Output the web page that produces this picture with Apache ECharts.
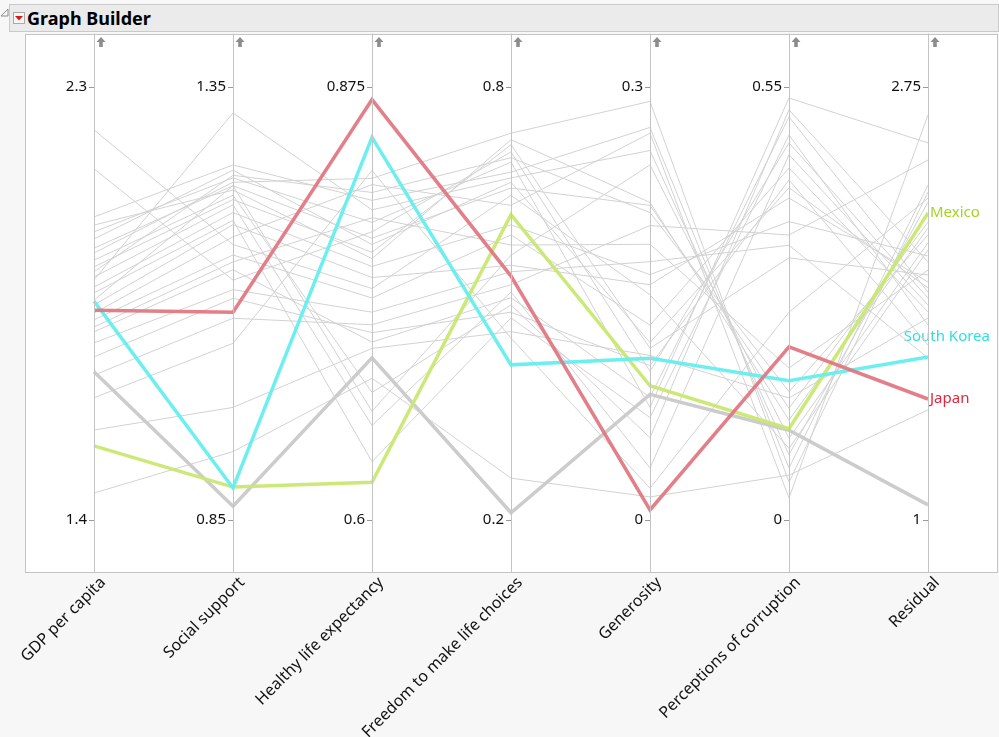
<!DOCTYPE html>
<html><head><meta charset="utf-8">
<script src="https://cdn.jsdelivr.net/npm/echarts@6/dist/echarts.min.js"></script>
<style>
html,body{margin:0;padding:0;background:#f7f7f7;width:999px;height:737px;overflow:hidden;font-family:'Noto Sans',sans-serif;}
#hdr{position:absolute;left:9px;top:4px;width:990px;height:28px;background:#ebebeb;border:1px solid #c9c9c9;box-sizing:border-box;}
#hdr .t{position:absolute;left:17px;top:0px;font-weight:bold;font-size:18px;color:#000;line-height:26px;}
#icon{position:absolute;left:3px;top:7px;width:10px;height:10px;background:#f6f6f6;border:1px solid #a9a9a9;}
#disc{position:absolute;left:0px;top:8px;}
#frame{position:absolute;left:25px;top:34px;width:973px;height:539px;background:#fff;border:1px solid #c3c3c3;box-sizing:border-box;}
#chart{position:absolute;left:0;top:0;width:999px;height:737px;}
</style></head>
<body>
<svg id="disc" width="9" height="9"><polygon points="1,8 8,8 8,1" fill="none" stroke="#8a8a8a" stroke-width="1"/></svg>
<div id="hdr"><div id="icon"><svg width="10" height="10" style="position:absolute;left:0;top:0"><polygon points="1,3 9,3 5,7.5" fill="#d7191c"/></svg></div><div class="t">Graph Builder</div></div>
<div id="frame"></div>
<div id="chart"></div>
<script>
// ---- data ----
const dimensions = ['GDP per capita','Social support','Healthy life expectancy','Freedom to make life choices','Generosity','Perceptions of corruption','Residual'];
const tickLow  = [1.4, 0.85, 0.6, 0.2, 0, 0, 1];
const tickHigh = [2.3, 1.35, 0.875, 0.8, 0.3, 0.55, 2.75];

const japan      = [1.836, 1.090, 0.867, 0.538, 0.007, 0.220, 1.489];
const southKorea = [1.855, 0.887, 0.843, 0.415, 0.112, 0.177, 1.659];
const mexico     = [1.554, 0.888, 0.624, 0.623, 0.093, 0.116, 2.241];
const highlightedGray = [1.708, 0.866, 0.703, 0.210, 0.087, 0.114, 1.061];

const otherCountries = [
  [2.211, 1.168, 0.747, 0.650, 0.156, 0.091, 2.091],
  [2.130, 1.127, 0.783, 0.710, 0.103, 0.479, 1.897],
  [2.030, 1.260, 0.803, 0.682, 0.272, 0.066, 2.354],
  [2.013, 1.231, 0.766, 0.727, 0.220, 0.127, 2.180],
  [1.999, 1.245, 0.789, 0.696, 0.078, 0.536, 2.524],
  [1.984, 1.254, 0.775, 0.668, 0.123, 0.422, 1.938],
  [1.965, 1.236, 0.669, 0.567, 0.246, 0.104, 2.120],
  [1.955, 1.240, 0.817, 0.736, 0.290, 0.048, 2.326],
  [1.940, 1.225, 0.681, 0.498, 0.057, 0.521, 2.043],
  [1.926, 1.220, 0.770, 0.720, 0.119, 0.333, 1.990],
  [1.916, 1.248, 0.808, 0.702, 0.213, 0.163, 2.152],
  [1.905, 1.214, 0.660, 0.516, 0.036, 0.464, 1.869],
  [1.899, 1.320, 0.797, 0.674, 0.256, 0.083, 2.285],
  [1.884, 1.205, 0.761, 0.609, 0.170, 0.379, 2.067],
  [1.872, 1.196, 0.637, 0.480, 0.071, 0.489, 1.788],
  [1.857, 1.236, 0.779, 0.660, 0.218, 0.142, 2.204],
  [1.847, 1.191, 0.754, 0.553, 0.163, 0.409, 1.962],
  [1.830, 1.177, 0.813, 0.636, 0.268, 0.028, 2.637],
  [1.816, 1.156, 0.741, 0.595, 0.135, 0.447, 1.841],
  [1.801, 1.148, 0.792, 0.581, 0.191, 0.193, 2.010],
  [1.791, 1.139, 0.713, 0.508, 0.085, 0.512, 1.921],
  [1.768, 1.116, 0.732, 0.544, 0.179, 0.349, 1.655],
  [1.739, 1.106, 0.719, 0.488, 0.107, 0.432, 1.707],
  [1.701, 1.083, 0.724, 0.526, 0.204, 0.362, 2.455],
  [1.654, 1.054, 0.822, 0.452, 0.022, 0.264, 2.301],
  [1.587, 0.980, 0.709, 0.461, 0.114, 0.155, 1.816],
  [1.456, 0.929, 0.690, 0.258, 0.016, 0.057, 1.445]
];

const labelled = [
  {name:'Mexico', values:mexico, line:'#c9e871', text:'#a4d422', dy:0, align:'left'},
  {name:'South Korea', values:southKorea, line:'#66eeee', text:'#2fdede', dy:-20, align:'right'},
  {name:'Japan', values:japan, line:'#e07882', text:'#e2283b', dy:0, align:'left'}
];

// ---- layout / style ----
const L = 94, R = 71, T = 34, B = 165, W = 999, H = 737;
const padTop = 53/433, padBottom = 52/433;

const chart = echarts.init(document.getElementById('chart'), null, {renderer:'canvas'});

const parallelAxis = dimensions.map((name, i) => {
  const span = tickHigh[i] - tickLow[i];
  return {
    dim: i,
    name: '',
    min: tickLow[i] - span*padBottom,
    max: tickHigh[i] + span*padTop,
    axisLine: {show:true, lineStyle:{color:'#c4c4c4', width:1}},
    axisTick: {show:true, customValues:[tickLow[i], tickHigh[i]], length:-5, lineStyle:{color:'#9a9a9a'}},
    axisLabel: {show:true, customValues:[tickLow[i], tickHigh[i]], color:'#111', fontSize:15, fontFamily:'Noto Sans',
      margin:-7, align:'right', verticalAlign:'middle',
      formatter: v => String(+(+v).toFixed(4))},
    splitLine: {show:false},
    areaSelectStyle: {width:0}
  };
});

const series = [
  {type:'parallel', data: otherCountries, lineStyle:{color:'#d2d2d2', width:1, opacity:1}, inactiveOpacity:1, activeOpacity:1, silent:true, z:1},
  {type:'parallel', data: [highlightedGray], lineStyle:{color:'#cccccc', width:3.5, opacity:1}, inactiveOpacity:1, activeOpacity:1, silent:true, z:2}
];
labelled.forEach((s, k) => series.push({
  type:'parallel', name:s.name, data:[s.values],
  lineStyle:{color:s.line, width:3.5, opacity:0.95}, inactiveOpacity:1, activeOpacity:1, silent:true, z:3+k
}));

chart.setOption({
  animation:false,
  parallel:{left:L, right:R, top:T, bottom:B, layout:'horizontal'},
  parallelAxis: parallelAxis,
  series: series
});

// positions from the coordinate system
function axisX(i){
  try {
    const cs = chart.getModel().getComponent('parallel').coordinateSystem;
    const lay = cs.getAxisLayout(cs.dimensions[i]);
    return lay.position[0];
  } catch(e) {
    return L + i*(W - L - R)/(dimensions.length - 1);
  }
}
function pointY(i, v){
  try {
    const cs = chart.getModel().getComponent('parallel').coordinateSystem;
    const p = cs.dataToPoint(v, cs.dimensions[i]);
    return p[1];
  } catch(e) {
    const ax = parallelAxis[i];
    return T + (ax.max - v)/(ax.max - ax.min)*(H - T - B);
  }
}

const graphics = [];
dimensions.forEach((name, i) => {
  const x = axisX(i);
  graphics.push({type:'text', x: x + 9, y: H - B + 8, rotation: Math.PI/4,
    style:{text:name, fill:'#111', font:'16px "Noto Sans"', textAlign:'right', textVerticalAlign:'middle'}});
  graphics.push({type:'polygon', x: x + 7, y: 37,
    shape:{points:[[0,0],[4.5,5],[1.8,5],[1.8,10],[-1.8,10],[-1.8,5],[-4.5,5]]},
    style:{fill:'#8c8c8c'}});
});
const last = dimensions.length - 1;
labelled.forEach(s => {
  const x = axisX(last);
  const y = pointY(last, s.values[last]) + s.dy;
  graphics.push({type:'text', x: s.align === 'left' ? x + 2 : 990, y: y,
    style:{text:s.name, fill:s.text, font:'15px "Noto Sans"', textAlign:s.align, textVerticalAlign:'middle'}});
});
chart.setOption({graphic: graphics});
</script>
</body></html>
